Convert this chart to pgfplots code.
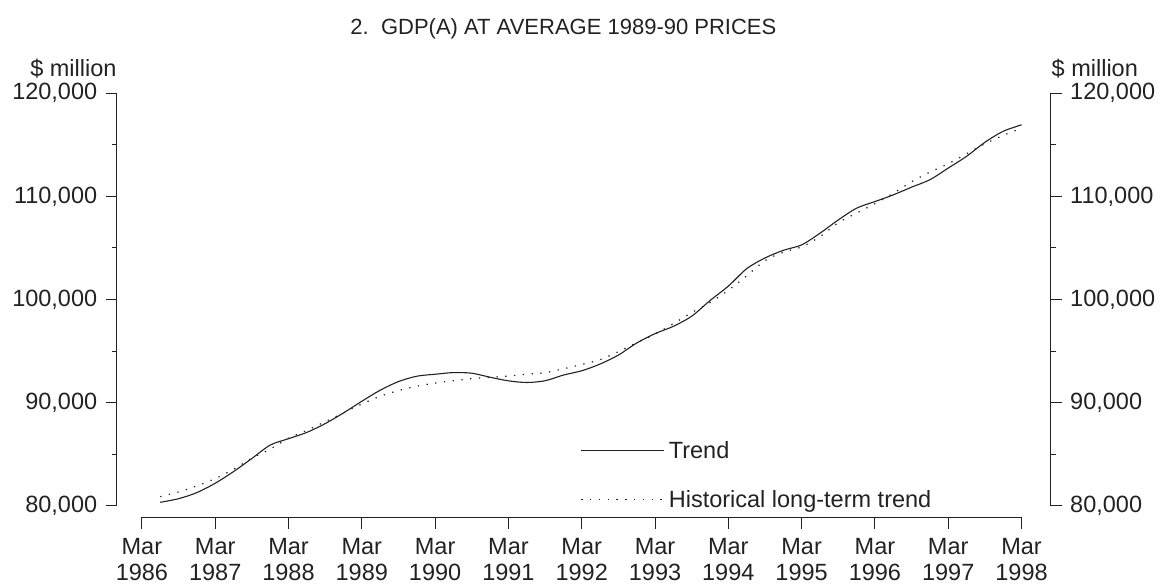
\documentclass[border=0pt]{standalone}
\usepackage{pgfplots}
\pgfplotsset{compat=1.18}
\usepackage{pgfplotstable}
\usepackage{fontspec}
\setmainfont{Liberation Sans}
\definecolor{ink}{HTML}{222222}
\newcommand\lab{\fontsize{23.5}{25.3}\selectfont}

% quarterly, t = year + quarter offset (Mar = .0)
\pgfplotstableread{
t       trend   hist
1986.25 80330   80880
1986.50 80680   81330
1986.75 81270   81920
1987.00 82180   82630
1987.25 83310   83540
1987.50 84580   84610
1987.75 85880   85490
1988.00 86500   86560
1988.25 87110   87300
1988.50 87960   88150
1988.75 89000   89000
1989.00 90130   89870
1989.25 91200   90610
1989.50 92040   91170
1989.75 92560   91590
1990.00 92750   91900
1990.25 92910   92120
1990.50 92850   92320
1990.75 92460   92450
1991.00 92110   92580
1991.25 91950   92750
1991.50 92120   92900
1991.75 92670   93280
1992.00 93090   93700
1992.25 93740   94160
1992.50 94610   94940
1992.75 95780   95810
1993.00 96690   96650
1993.25 97400   97660
1993.50 98380   98730
1993.75 99900   99700
1994.00 101300  100900
1994.25 102990  102300
1994.50 104030  103770
1994.75 104770  104580
1995.00 105300  105100
1995.25 106430  106100
1995.50 107720  107450
1995.75 108860  108390
1996.00 109500  109300
1996.25 110150  110300
1996.50 110900  111420
1996.75 111620  112360
1997.00 112750  113170
1997.25 113890  114140
1997.50 115250  115110
1997.75 116320  115920
1998.00 116940  116610
}\gdptab

\pgfplotsset{
  gdp/.style={
    scale only axis, width=934pt, height=412.4pt,
    at={(116.7pt,80.3pt)}, anchor=south west,
    xmin=1985.656, xmax=1998.397, ymin=80000, ymax=120000,
    axis x line=none,
    ytick={80000,90000,...,120000},
    yticklabels={{80,000},{90,000},{100,000},{110,000},{120,000}},
    minor y tick num=1,
    tick align=outside, major tick length=11pt, minor tick length=5pt,
    scaled y ticks=false,
    yticklabel style={font=\lab, text=ink},
    axis line style={ink, line width=0.9pt},
    tick style={ink, line width=0.9pt},
  },
}

\begin{document}
\begin{tikzpicture}
\path (0pt,0pt) rectangle (1161pt,586pt);

\begin{axis}[gdp,
    axis y line*=left,
    yticklabel style={xshift=-5pt},
    clip=false,
    legend style={draw=none, fill=none, at={(0.4965,0.161)}, anchor=north west,
      font=\lab, text=ink, inner sep=0pt, row sep=26pt,
      nodes={inner xsep=4pt}},
    legend cell align=left,
    legend image code/.code={\draw[#1] (0pt,0pt) -- (83pt,0pt);},
]
\addplot[ink, line width=1.1pt, smooth] table[x=t, y=trend] {\gdptab};
\addplot[ink, line width=1.2pt, smooth, dash pattern=on 1.3pt off 7.5pt] table[x=t, y=hist] {\gdptab};
\legend{Trend, Historical long-term trend}
\end{axis}

\begin{axis}[gdp,
    axis y line*=right,
    yticklabel style={xshift=5pt},
]
\end{axis}

\begin{axis}[
    scale only axis, width=879.7pt, height=10pt,
    at={(141.9pt,68.7pt)}, anchor=south west,
    xmin=1986, xmax=1998, ymin=0, ymax=1,
    axis y line=none, axis x line*=bottom,
    x axis line style={-, ink, line width=0.9pt},
    tick style={ink, line width=0.9pt},
    xtick={1986,...,1998},
    xticklabels={Mar\\1986, Mar\\1987, Mar\\1988, Mar\\1989, Mar\\1990, Mar\\1991,
      Mar\\1992, Mar\\1993, Mar\\1994, Mar\\1995, Mar\\1996, Mar\\1997, Mar\\1998},
    tick align=outside, major tick length=11.7pt,
    xticklabel style={font=\lab, text=ink, align=center, yshift=-6pt},
]
\end{axis}

\node[anchor=base, font=\fontsize{22}{26}\selectfont, text=ink]
  at (563.4pt,551pt) {2.\ \ GDP(A) AT AVERAGE 1989-90 PRICES};
\node[anchor=base east, font=\lab, text=ink, inner sep=0pt] at (116.7pt,509.3pt) {\$ million};
\node[anchor=base west, font=\lab, text=ink, inner sep=0pt] at (1051.5pt,509.3pt) {\$ million};
\end{tikzpicture}
\end{document}
